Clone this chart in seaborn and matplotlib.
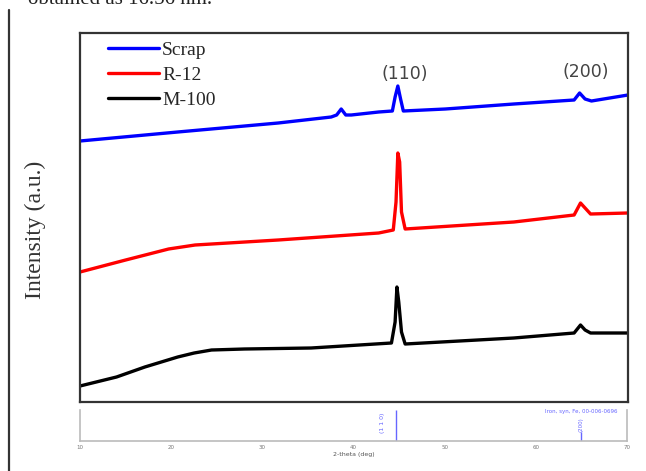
import numpy as np
import pandas as pd
import matplotlib
matplotlib.use("Agg")
import matplotlib.pyplot as plt
import seaborn as sns
from matplotlib.lines import Line2D

# DATOS (intensidad en unidades arbitrarias)
two_theta_scrap = [10, 20.7, 31.7, 37.5, 38.1, 38.6, 39.1, 39.7, 42.7, 44.2, 44.5, 44.8,
                   45.1, 45.4, 50, 57.5, 64.1, 64.7, 65.3, 66, 70]
scrap = [261, 270, 279, 285, 287, 293, 287, 287, 290, 291, 305, 316,
         303, 291, 293, 298, 302, 309, 303, 301, 307]

two_theta_r12 = [10, 15, 19.7, 22.6, 31.7, 42.7, 44.3, 44.6, 44.8, 45.0, 45.2, 45.6,
                 57.5, 64.1, 64.8, 65.3, 65.9, 70]
r12 = [130, 142, 153, 157, 162, 169, 172, 200, 249, 240, 190, 173,
       180, 187, 199, 194, 188, 189]

two_theta_m100 = [10, 14, 17.1, 20.7, 22.5, 24.4, 28, 35.3, 44.1, 44.5, 44.7, 44.9, 45.2, 45.6,
                  57.5, 64.1, 64.8, 65.3, 65.9, 70]
m100 = [16, 25, 35, 45, 49, 52, 53, 54, 59, 80, 115, 100, 70, 58,
        64, 69, 77, 72, 69, 69]

labels = ["Scrap", "R-12", "M-100"]
colors = ["#0000ff", "#ff0000", "#000000"]

# referencia (Iron, syn, Fe)
ref_pos = [44.7, 65.0]
ref_int = [100, 28]
ref_hkl = ["(110)", "(200)"]
peak_text_y = [328, 330]

sns.set_style("white")
plt.rcParams['font.family'] = ['Liberation Serif', 'DejaVu Serif']

fig = plt.figure(figsize=(6.46, 4.71), dpi=100)
ax = fig.add_axes([80/646, 1 - 402/471, 548/646, 369/471])

series = [(two_theta_scrap, scrap), (two_theta_r12, r12), (two_theta_m100, m100)]
for (x, y), lab, c in zip(series, labels, colors):
    df = pd.DataFrame({"2theta": x, "I": y})
    sns.lineplot(data=df, x="2theta", y="I", color=c, lw=2.4, label=lab, ax=ax)

ax.set_xlim(10, 70)
ax.set_ylim(0, 369)
ax.set_xticks([])
ax.set_yticks([])
ax.set_xlabel("")
ax.set_ylabel("")
for s in ax.spines.values():
    s.set_color("#333333")
    s.set_linewidth(1.6)

for pos, hkl, ty, dx in zip(ref_pos, ref_hkl, peak_text_y, [0.9, 0.4]):
    ax.text(pos + dx, ty, hkl, ha="center", va="center", fontsize=12.5,
            family="DejaVu Sans", color="#444444")

ax.legend(loc="upper left", bbox_to_anchor=(0.02, 1.025), frameon=False,
          handlelength=2.6, handletextpad=0.15, labelspacing=0.38,
          prop={"family": "Liberation Serif", "size": 14})

# panel de referencia inferior
ax2 = fig.add_axes([80/646, 1 - 441/471, 547/646, 31/471])
for p, h in zip(ref_pos, ref_int):
    ax2.vlines(p, 0, h, color="#6666ff", lw=1)
ax2.set_xlim(10, 70)
ax2.set_ylim(0, 100)
ax2.set_xticks(range(10, 71, 10))
ax2.set_xticklabels([str(v) for v in range(10, 71, 10)], fontsize=4, color="#777777",
                    family="DejaVu Sans")
ax2.set_yticks([30, 60])
ax2.set_yticklabels([])
ax2.tick_params(length=2, width=0.6, color="#aaaaaa", pad=1)
ax2.set_xlabel("2-theta (deg)", fontsize=4.5, color="#555555", family="DejaVu Sans", labelpad=1)
ax2.spines["top"].set_visible(False)
for side in ["left", "right", "bottom"]:
    ax2.spines[side].set_color("#bbbbbb")
    ax2.spines[side].set_linewidth(1.2)
ax2.text(43.2, 60, "(1 1 0)", rotation=90, fontsize=4.5, color="#6666ff",
         ha="center", va="center", family="DejaVu Sans")
ax2.text(65.0, 52, "(200)", rotation=90, fontsize=4, color="#6666ff",
         ha="center", va="center", family="DejaVu Sans")
ax2.text(69, 95, "Iron, syn, Fe, 00-006-0696", fontsize=4, color="#6666ff",
         ha="right", va="center", family="DejaVu Sans")

# etiqueta eje Y
fig.text(35/646, 1 - 230/471, "Intensity (a.u.)", rotation=90, ha="center", va="center",
         fontsize=17, color="#333333", family="Liberation Serif")

# restos de la página
fig.text(28/646, 1.0, "obtained as 16.56 nm.", ha="left", va="center", fontsize=15,
         color="#222222", family="Liberation Serif")
fig.add_artist(Line2D([9/646, 9/646], [0, 1 - 10/471], color="#333333", lw=1.6))

fig.savefig("out.png", dpi=100)
